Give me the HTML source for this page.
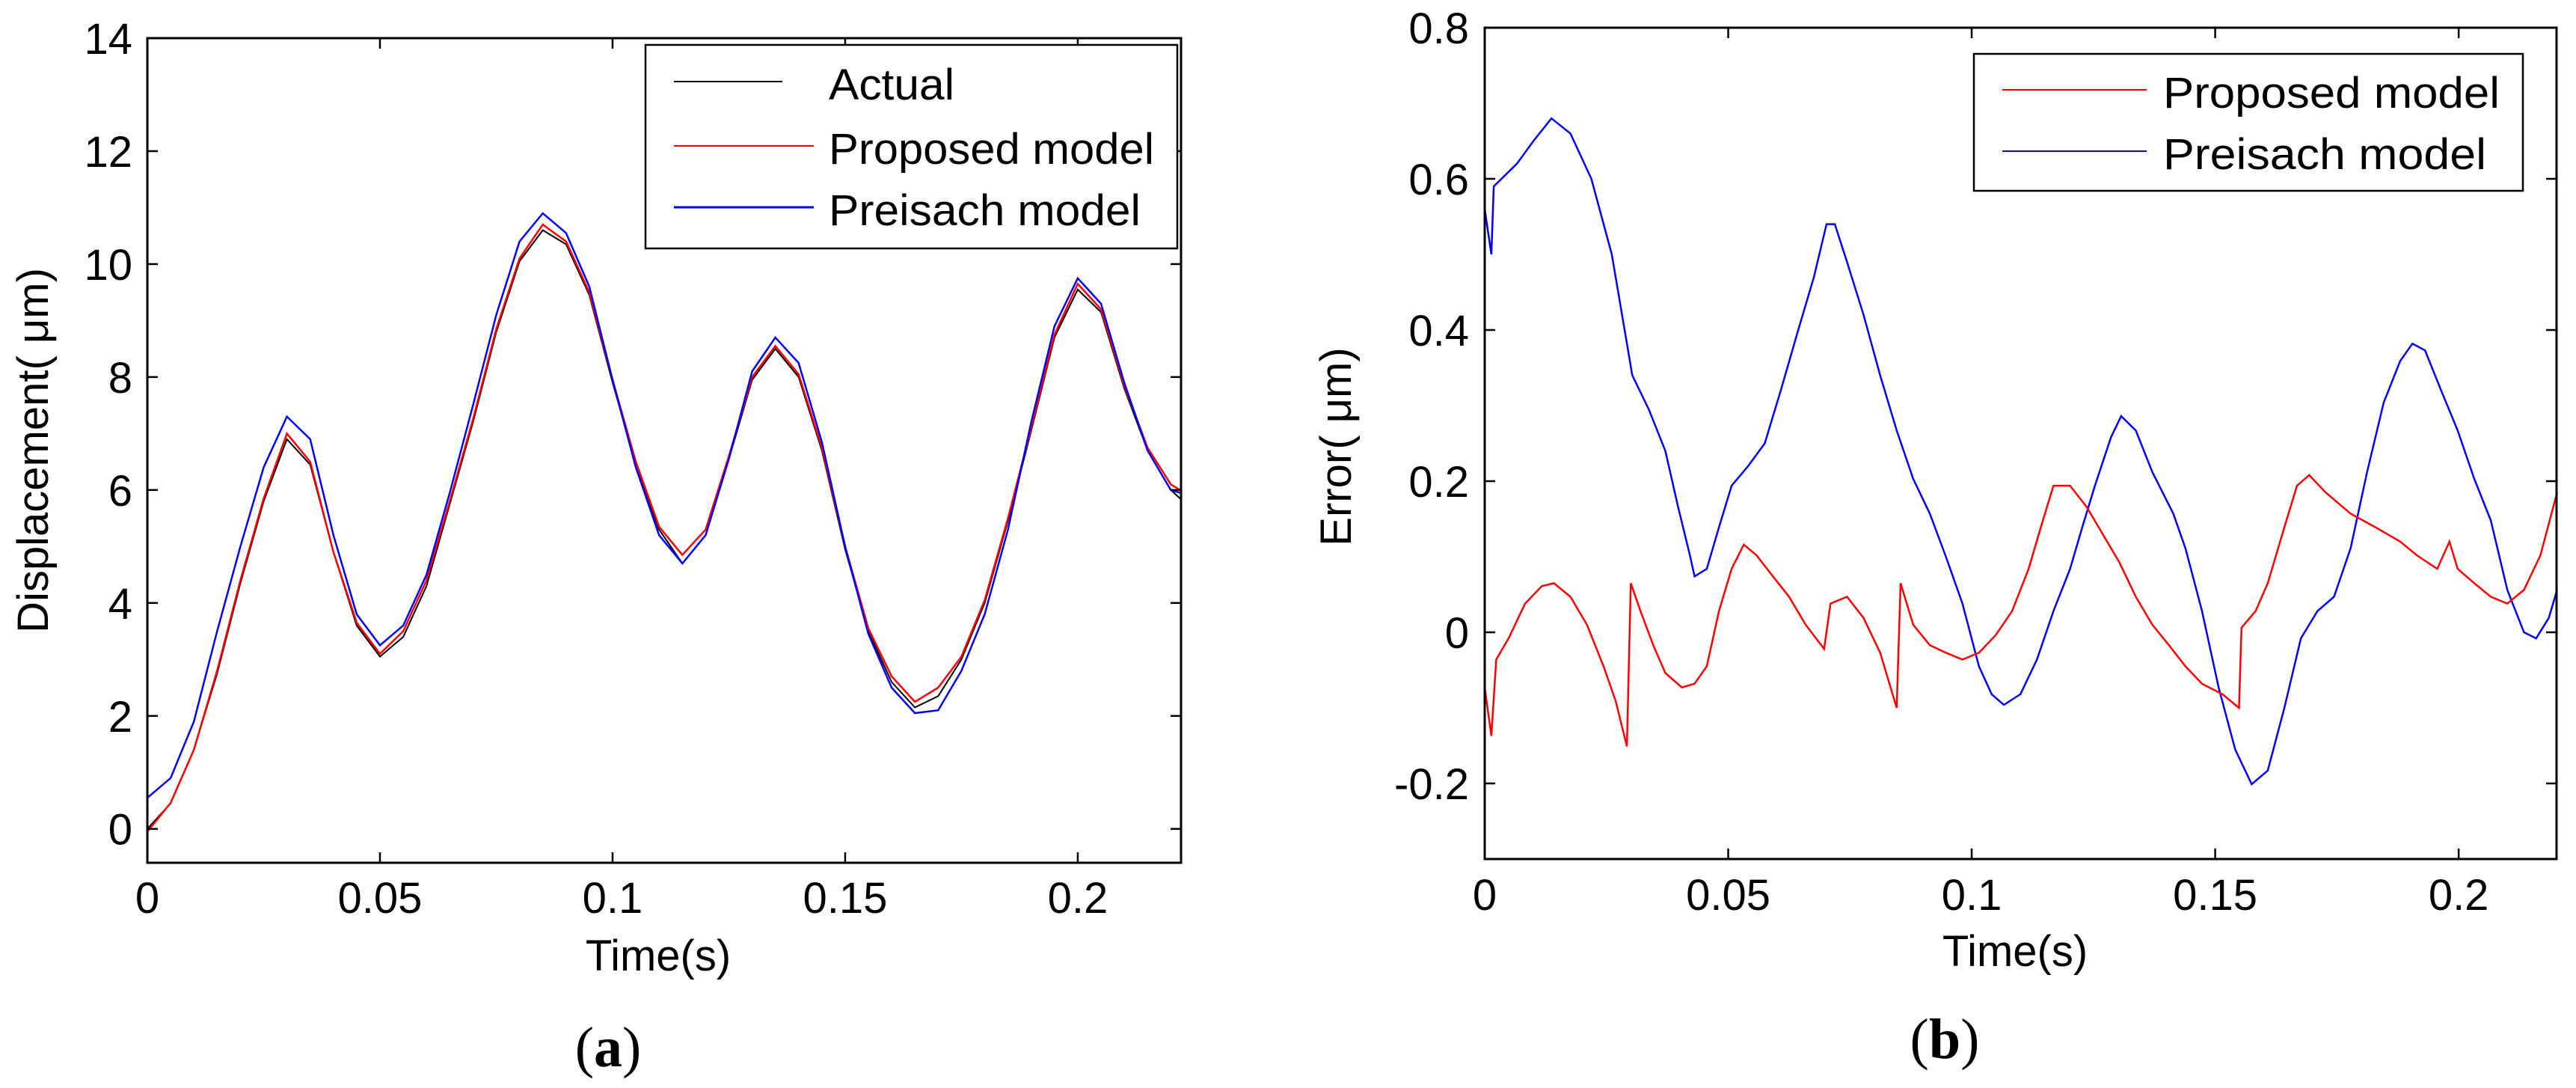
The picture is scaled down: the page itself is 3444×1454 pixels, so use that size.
<!DOCTYPE html>
<html><head><meta charset="utf-8"><style>
html,body{margin:0;padding:0;background:#fff}
svg{display:block}
text{font-family:"Liberation Sans",sans-serif;fill:#000}
</style></head><body>
<svg id="fig" width="3444" height="1454" viewBox="0 0 3444 1454" xmlns="http://www.w3.org/2000/svg">
<g id="chartA"></g>
<g id="chartB"></g>
</svg>
<script>
// ---- Chart (a) data ----
const tA = [0,0.005,0.01,0.015,0.02,0.025,0.03,0.035,0.04,0.045,0.05,0.055,0.06,0.065,0.07,0.075,0.08,0.085,0.09,0.095,0.1,0.105,0.11,0.115,0.12,0.125,0.13,0.135,0.14,0.145,0.15,0.155,0.16,0.165,0.17,0.175,0.18,0.185,0.19,0.195,0.2,0.205,0.21,0.215,0.22,0.222];
const actualA = [0.0,0.45,1.4,2.75,4.35,5.8,6.9,6.45,4.9,3.6,3.05,3.4,4.3,5.75,7.2,8.8,10.05,10.6,10.35,9.45,7.9,6.45,5.3,4.7,5.2,6.55,7.95,8.5,8.0,6.7,4.95,3.5,2.6,2.15,2.35,3.0,4.0,5.45,7.05,8.7,9.55,9.15,7.8,6.7,6.0,5.85];
const proposedA = [-0.05,0.46,1.4,2.8,4.4,5.85,7.0,6.5,4.9,3.65,3.1,3.5,4.4,5.8,7.25,8.85,10.1,10.7,10.4,9.5,7.95,6.5,5.35,4.85,5.3,6.6,8.0,8.55,8.05,6.75,5.0,3.55,2.7,2.25,2.5,3.05,4.05,5.5,7.1,8.75,9.65,9.2,7.85,6.75,6.1,6.0];
const preisachA = [0.55,0.9,1.9,3.5,5.0,6.4,7.3,6.9,5.2,3.8,3.25,3.6,4.5,5.95,7.5,9.1,10.4,10.9,10.55,9.6,7.95,6.4,5.2,4.7,5.2,6.55,8.1,8.7,8.25,6.85,5.0,3.45,2.5,2.05,2.1,2.8,3.8,5.3,7.2,8.9,9.75,9.3,7.9,6.7,6.0,5.95];
const xTicksA = [0,0.05,0.1,0.15,0.2];
const xTickLabelsA = ["0","0.05","0.1","0.15","0.2"];
const yTicksA = [0,2,4,6,8,10,12,14];
const yTickLabelsA = ["0","2","4","6","8","10","12","14"];

// ---- Chart (b) data ----
const tBlue = [0,0.00136,0.00186,0.00661,0.0100,0.0137,0.0176,0.0219,0.0261,0.0286,0.0303,0.0337,0.0371,0.0397,0.0422,0.0431,0.0456,0.0481,0.0507,0.0541,0.0575,0.0608,0.0642,0.0676,0.0702,0.0719,0.0744,0.0778,0.0812,0.0846,0.0880,0.0914,0.0947,0.0981,0.1015,0.1041,0.1066,0.1100,0.1134,0.1168,0.1202,0.1227,0.1253,0.1286,0.1307,0.1337,0.1371,0.1414,0.1439,0.1473,0.1507,0.1541,0.1575,0.1608,0.1642,0.1676,0.1710,0.1744,0.1778,0.1812,0.1846,0.1880,0.1905,0.1931,0.1964,0.1998,0.2032,0.2066,0.2100,0.2134,0.2159,0.2185,0.2202];
const preisachErr = [0.56,0.5,0.59,0.62,0.65,0.68,0.66,0.6,0.5,0.405,0.34,0.295,0.24,0.166,0.10,0.074,0.084,0.139,0.194,0.22,0.25,0.32,0.396,0.47,0.54,0.54,0.49,0.42,0.34,0.267,0.203,0.157,0.10,0.038,-0.045,-0.082,-0.096,-0.082,-0.036,0.028,0.084,0.139,0.194,0.258,0.286,0.267,0.212,0.157,0.111,0.028,-0.073,-0.155,-0.201,-0.183,-0.1,-0.008,0.028,0.047,0.111,0.212,0.304,0.359,0.382,0.373,0.32,0.267,0.203,0.148,0.056,0.0,-0.008,0.019,0.056];
const tRed = [0,0.00136,0.00237,0.0049,0.0083,0.0117,0.0142,0.0176,0.0210,0.0244,0.0269,0.0292,0.0300,0.0320,0.0346,0.0371,0.0405,0.0431,0.0456,0.0481,0.0507,0.0532,0.0558,0.0592,0.0625,0.0659,0.0697,0.0710,0.0744,0.0778,0.0812,0.0846,0.0854,0.0880,0.0914,0.0947,0.0981,0.1015,0.1049,0.1083,0.1117,0.1142,0.1168,0.1202,0.1236,0.1269,0.1303,0.1337,0.1371,0.1405,0.1439,0.1473,0.1515,0.1549,0.1554,0.1583,0.1608,0.1642,0.1668,0.1693,0.1727,0.1778,0.1829,0.1880,0.1914,0.1956,0.1981,0.1998,0.2032,0.2066,0.2100,0.2134,0.2168,0.2202];
const proposedErr = [-0.073,-0.137,-0.036,-0.008,0.038,0.061,0.065,0.047,0.01,-0.045,-0.091,-0.151,0.065,0.028,-0.017,-0.054,-0.073,-0.068,-0.045,0.028,0.084,0.116,0.102,0.074,0.047,0.01,-0.022,0.038,0.047,0.019,-0.027,-0.1,0.065,0.01,-0.017,-0.027,-0.036,-0.027,-0.004,0.028,0.084,0.139,0.194,0.194,0.166,0.13,0.093,0.047,0.01,-0.017,-0.045,-0.068,-0.082,-0.1,0.006,0.028,0.065,0.139,0.194,0.208,0.185,0.157,0.139,0.12,0.102,0.084,0.12,0.084,0.065,0.047,0.038,0.056,0.102,0.185];
const xTicksB = [0,0.05,0.1,0.15,0.2];
const xTickLabelsB = ["0","0.05","0.1","0.15","0.2"];
const yTicksB = [-0.2,0,0.2,0.4,0.6,0.8];
const yTickLabelsB = ["-0.2","0","0.2","0.4","0.6","0.8"];

const NS = "http://www.w3.org/2000/svg";
function mk(parent, tag, attrs){
  const e = document.createElementNS(NS, tag);
  for (const k in attrs) e.setAttribute(k, attrs[k]);
  parent.appendChild(e);
  return e;
}

function drawChart(g, cfg){
  const {L,R,T,B,xmin,xmax,ymin,ymax} = cfg;
  const sx = v => L + (v - xmin) / (xmax - xmin) * (R - L);
  const sy = v => B - (v - ymin) / (ymax - ymin) * (B - T);
  // series
  cfg.series.forEach(s => {
    const pts = s.t.map((t,i) => sx(t).toFixed(1) + "," + sy(s.v[i]).toFixed(1)).join(" ");
    const pl = mk(g, "polyline", {points: pts, fill: "none", stroke: s.color, "stroke-width": s.w, "stroke-linejoin": "miter"});
    
    
  });
  // frame
  const fr = mk(g, "rect", {x: L, y: T, width: R - L, height: B - T, fill: "none", stroke: "#000", "stroke-width": 3});
  
  
  // ticks
  cfg.xTicks.forEach((v,i) => {
    const x = sx(v);
    const t1 = mk(g, "line", {x1: x, y1: B, x2: x, y2: B - 14, stroke: "#000", "stroke-width": 2.5});
    
    
    mk(g, "line", {x1: x, y1: T, x2: x, y2: T + 14, stroke: "#000", "stroke-width": 2.5});
    const lb = mk(g, "text", {x: x, y: cfg.xLabelY, "font-size": 58, "text-anchor": "middle"});
    lb.textContent = cfg.xTickLabels[i];
    
    
  });
  cfg.yTicks.forEach((v,i) => {
    const y = sy(v);
    const t1 = mk(g, "line", {x1: L, y1: y, x2: L + 14, y2: y, stroke: "#000", "stroke-width": 2.5});
    
    
    mk(g, "line", {x1: R, y1: y, x2: R - 14, y2: y, stroke: "#000", "stroke-width": 2.5});
    const lb = mk(g, "text", {x: cfg.yLabelX, y: y + 21, "font-size": 58, "text-anchor": "end"});
    lb.textContent = cfg.yTickLabels[i];
    
    
  });
  // axis titles
  const xt = mk(g, "text", {x: cfg.xTitle[0], y: cfg.xTitle[1], "font-size": 58, "text-anchor": "middle"});
  xt.textContent = "Time(s)";
  
  
  const yt = mk(g, "text", {x: 0, y: 0, "font-size": 58, "text-anchor": "middle", transform: "translate(" + cfg.yTitle[0] + "," + cfg.yTitle[1] + ") rotate(-90)"});
  yt.textContent = cfg.yTitleText;
  
  
  // legend
  const lg = cfg.legend;
  const lgg = mk(g, "g", {});
  
  
  mk(lgg, "rect", {x: lg.x, y: lg.y, width: lg.w, height: lg.h, fill: "#fff", stroke: "#000", "stroke-width": 2.5});
  lg.items.forEach(it => {
    const e = mk(lgg, "g", {});
    
    
    mk(e, "line", {x1: lg.lx1, y1: it.ly, x2: it.lx2, y2: it.ly, stroke: it.color, "stroke-width": it.w});
    const tx = mk(e, "text", {x: lg.tx, y: it.by, "font-size": 58, textLength: it.tl, lengthAdjust: "spacingAndGlyphs"});
    tx.textContent = it.label;
  });
  // caption
  const cap = mk(g, "text", {x: cfg.cap[0], y: cfg.cap[1], "font-size": 76, "text-anchor": "middle", style: "font-family:'Liberation Serif',serif"});
  cap.innerHTML = '(<tspan font-weight="bold">' + cfg.capLetter + '</tspan>)';
  
  
}

drawChart(document.getElementById("chartA"), {
  L: 197, R: 1579, T: 51, B: 1153, xmin: 0, xmax: 0.2222, ymin: -0.6, ymax: 14,
  series: [
    {name: "actual-line", t: tA, v: actualA, color: "#000", w: 2},
    {name: "proposed-model-line", t: tA, v: proposedA, color: "#ff0000", w: 2.5},
    {name: "preisach-model-line", t: tA, v: preisachA, color: "#0000ff", w: 2.5}
  ],
  xTicks: xTicksA, xTickLabels: xTickLabelsA, yTicks: yTicksA, yTickLabels: yTickLabelsA,
  xLabelY: 1220, yLabelX: 177, xTitle: [880, 1297], yTitle: [64, 602], yTitleText: "Displacement( μm)",
  legend: {x: 863, y: 60, w: 711, h: 272, lx1: 901, tx: 1108, items: [
    {label: "Actual", color: "#000", w: 2, ly: 109, lx2: 1046, by: 133, tl: 168},
    {label: "Proposed model", color: "#ff0000", w: 2, ly: 195, lx2: 1088, by: 219, tl: 435},
    {label: "Preisach model", color: "#0000ff", w: 3, ly: 277, lx2: 1088, by: 301, tl: 417}
  ]},
  cap: [813, 1425], capLetter: "a"
});

drawChart(document.getElementById("chartB"), {
  L: 1985, R: 3418, T: 37, B: 1148, xmin: 0, xmax: 0.2201, ymin: -0.3, ymax: 0.8,
  series: [
    {name: "preisach-error-line", t: tBlue, v: preisachErr, color: "#0000ff", w: 2.5},
    {name: "proposed-error-line", t: tRed, v: proposedErr, color: "#ff0000", w: 2.5}
  ],
  xTicks: xTicksB, xTickLabels: xTickLabelsB, yTicks: yTicksB, yTickLabels: yTickLabelsB,
  xLabelY: 1216, yLabelX: 1964, xTitle: [2694, 1291], yTitle: [1806, 597], yTitleText: "Error( μm)",
  legend: {x: 2639, y: 72, w: 734, h: 183, lx1: 2677, tx: 2892, items: [
    {label: "Proposed model", color: "#ff0000", w: 2, ly: 120, lx2: 2870, by: 144, tl: 450},
    {label: "Preisach model", color: "#0000ff", w: 2, ly: 202, lx2: 2870, by: 226, tl: 432}
  ]},
  cap: [2600, 1414], capLetter: "b"
});
</script>
</body></html>
